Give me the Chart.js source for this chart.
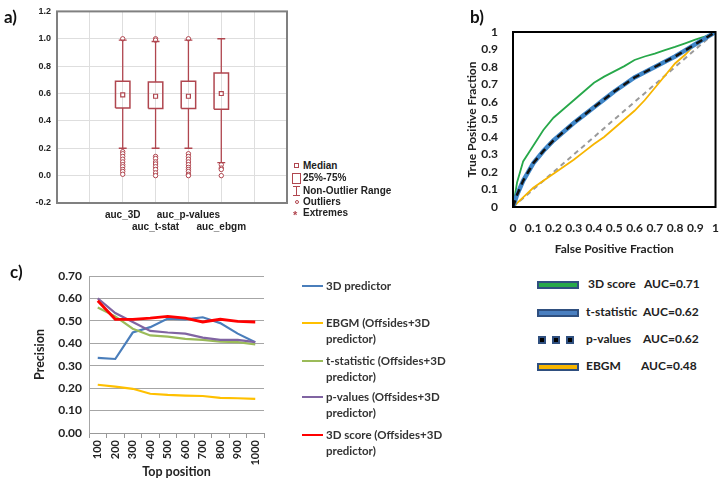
<!DOCTYPE html>
<html>
<head>
<meta charset="utf-8">
<script src="https://cdn.jsdelivr.net/npm/chart.js@4.4.0/dist/chart.umd.min.js"></script>
<style>
body { margin: 0; background: #fff; width: 725px; height: 483px; position: relative; overflow: hidden; }
canvas { position: absolute; }
.txt { position: absolute; font-weight: bold; white-space: nowrap; color: #222; }
.panel { font-family: Lato, sans-serif; font-size: 17px; color: #111; }
.la { font-family: "Liberation Sans", Arial, sans-serif; font-size: 10px; line-height: 12px; }
.lc { font-family: Lato, sans-serif; font-size: 11.5px; line-height: 16px; color: #333; }
.lb { font-family: Lato, sans-serif; font-size: 12px; line-height: 14px; color: #222; }
.sw { position: absolute; box-sizing: border-box; }
</style>
</head>
<body>
<canvas id="chartA" width="300" height="240" style="left:0;top:0"></canvas>
<canvas id="chartB" width="285" height="260" style="left:440px;top:0"></canvas>
<canvas id="chartC" width="290" height="228" style="left:0;top:255px"></canvas>

<div class="txt panel" style="left:4px;top:6px">a)</div>
<div class="txt panel" style="left:470px;top:6px">b)</div>
<div class="txt panel" style="left:10px;top:261px">c)</div>

<div id="legendA"></div>
<div id="legendB"></div>
<div id="legendC"></div>

<script>
// a) box plot data
const boxLabels = ['auc_3D', 'auc_t-stat', 'auc_p-values', 'auc_ebgm'];
const boxPos = [2, 3, 4, 5];
const boxQ1 = [0.495, 0.49, 0.49, 0.485];
const boxQ3 = [0.69, 0.685, 0.69, 0.75];
const boxMedian = [0.59, 0.58, 0.58, 0.60];
const whiskerLow = [0.2, 0.2, 0.2, 0.095];
const whiskerHigh = [0.99, 0.98, 0.99, 1.0];
const boxOutliers = [
	[1.0, 0.175, 0.16, 0.14, 0.12, 0.1, 0.08, 0.065, 0.045, 0.03, 0.01],
	[1.0, 0.99, 0.14, 0.125, 0.1, 0.085, 0.065, 0.045, 0.02, 0.0],
	[1.0, 0.16, 0.14, 0.12, 0.1, 0.08, 0.06, 0.045, 0.03, 0.01, 0.0],
	[0.08, 0.055, 0.045, 0.0]
];
const boxYTicks = [-0.2, 0, 0.2, 0.4, 0.6, 0.8, 1.0, 1.2];

// b) ROC curves
const rocFpr =     [0, 0.02, 0.05, 0.1, 0.15, 0.2, 0.25, 0.3, 0.35, 0.4, 0.45, 0.5, 0.55, 0.6, 0.65, 0.7, 0.75, 0.8, 0.85, 0.9, 0.95, 1];
const roc3DScore = [0, 0.14, 0.26, 0.35, 0.44, 0.51, 0.56, 0.61, 0.66, 0.71, 0.745, 0.775, 0.805, 0.84, 0.86, 0.877, 0.897, 0.915, 0.935, 0.956, 0.975, 1];
const rocTStat =   [0, 0.07, 0.15, 0.25, 0.32, 0.38, 0.43, 0.48, 0.525, 0.57, 0.615, 0.66, 0.70, 0.74, 0.77, 0.80, 0.83, 0.86, 0.895, 0.93, 0.965, 1];
const rocPValues = [0, 0.07, 0.15, 0.25, 0.32, 0.38, 0.43, 0.48, 0.525, 0.57, 0.615, 0.66, 0.70, 0.74, 0.77, 0.80, 0.83, 0.86, 0.895, 0.93, 0.965, 1];
const rocEbgm =    [0, 0.022, 0.055, 0.11, 0.15, 0.19, 0.23, 0.27, 0.315, 0.36, 0.40, 0.45, 0.50, 0.55, 0.61, 0.68, 0.75, 0.82, 0.87, 0.93, 0.965, 1];
const rocDiag = [0, 1];
const rocLegend = [
	['3D score', 'AUC=0.71'],
	['t-statistic', 'AUC=0.62'],
	['p-values', 'AUC=0.62'],
	['EBGM', 'AUC=0.48']
];

// c) precision at top positions
const topPositions = ['100', '200', '300', '400', '500', '600', '700', '800', '900', '1000'];
const prec3DPredictor = [0.335, 0.33, 0.448, 0.472, 0.51, 0.507, 0.516, 0.49, 0.443, 0.405];
const precEbgm =        [0.215, 0.207, 0.197, 0.175, 0.17, 0.167, 0.165, 0.157, 0.155, 0.152];
const precTStat =       [0.56, 0.52, 0.465, 0.435, 0.43, 0.42, 0.415, 0.407, 0.405, 0.395];
const precPValues =     [0.60, 0.535, 0.495, 0.455, 0.448, 0.443, 0.425, 0.415, 0.415, 0.405];
const prec3DScore =     [0.59, 0.507, 0.507, 0.512, 0.52, 0.512, 0.495, 0.507, 0.498, 0.495];
const precLabels = [
	['3D predictor'],
	['EBGM (Offsides+3D', 'predictor)'],
	['t-statistic (Offsides+3D', 'predictor)'],
	['p-values (Offsides+3D', 'predictor)'],
	['3D score (Offsides+3D', 'predictor)']
];

Chart.defaults.animation = false;
Chart.defaults.plugins.legend.display = false;
Chart.defaults.plugins.tooltip.enabled = false;

// frame around plot area
const framePlugin = {
	id: 'frame',
	afterDatasetsDraw(chart, args, opts) {
		const a = chart.chartArea;
		const c = chart.ctx;
		c.save();
		c.strokeStyle = opts.color;
		c.lineWidth = opts.width;
		c.strokeRect(a.left, a.top, a.right - a.left, a.bottom - a.top);
		c.restore();
	}
};

function pts(xs, ys) {
	return xs.map((x, i) => ({x: x, y: ys[i]}));
}

// ---------- a)
const boxRed = '#b0464f';
const bw = 0.22, cw = 0.12;
const aSets = [];
function seg(points, width) {
	aSets.push({
		data: points.map(p => ({x: p[0], y: p[1]})),
		showLine: true, borderColor: boxRed, borderWidth: width || 1.3,
		pointRadius: 0
	});
}
boxPos.forEach((x, i) => {
	seg([[x - bw, boxQ1[i]], [x + bw, boxQ1[i]], [x + bw, boxQ3[i]], [x - bw, boxQ3[i]], [x - bw, boxQ1[i]]], 1.5);
	seg([[x, whiskerLow[i]], [x, boxQ1[i]]]);
	seg([[x, boxQ3[i]], [x, whiskerHigh[i]]]);
	seg([[x - cw, whiskerLow[i]], [x + cw, whiskerLow[i]]]);
	seg([[x - cw, whiskerHigh[i]], [x + cw, whiskerHigh[i]]]);
});
aSets.push({
	data: boxPos.map((x, i) => ({x: x, y: boxMedian[i]})),
	showLine: false, pointStyle: 'rect', pointRadius: 2.8,
	borderColor: boxRed, borderWidth: 1.2, backgroundColor: '#fff'
});
const outPts = [];
boxOutliers.forEach((arr, i) => arr.forEach(v => outPts.push({x: boxPos[i], y: v})));
aSets.push({
	data: outPts, showLine: false, pointStyle: 'circle', pointRadius: 2.2,
	borderColor: boxRed, borderWidth: 1, backgroundColor: '#fff'
});

new Chart(document.getElementById('chartA'), {
	type: 'scatter',
	data: {datasets: aSets},
	plugins: [framePlugin],
	options: {
		responsive: false,
		layout: {padding: {top: 8, right: 13, left: 0, bottom: 0}},
		plugins: {frame: {color: '#808080', width: 2}},
		scales: {
			x: {
				type: 'linear', min: 0, max: 7,
				afterFit(s) { s.height = 37; },
				afterBuildTicks(s) { s.ticks = [0, 1, 2, 3, 4, 5, 6, 7].map(v => ({value: v})); },
				grid: {color: '#dedede', drawTicks: false},
				border: {display: false},
				ticks: {
					autoSkip: false, maxRotation: 0, padding: 6,
					color: '#222', font: {family: 'Liberation Sans', size: 10, weight: 'bold'},
					callback(v) {
						const i = boxPos.indexOf(v);
						if (i < 0) return '';
						return i % 2 === 0 ? [boxLabels[i], ''] : ['', boxLabels[i]];
					}
				}
			},
			y: {
				min: -0.2, max: 1.2,
				afterFit(s) { s.width = 57; },
				afterBuildTicks(s) { s.ticks = boxYTicks.map(v => ({value: v})); },
				grid: {color: '#dedede', drawTicks: false},
				border: {display: false},
				ticks: {
					padding: 6, color: '#222',
					font: {family: 'Liberation Sans', size: 9, weight: 'bold'},
					callback: v => v.toFixed(1)
				}
			}
		}
	}
});

// legend a)
(function() {
	const box = document.getElementById('legendA');
	const items = ['Median', '25%-75%', 'Non-Outlier Range', 'Outliers', 'Extremes'];
	const tops = [160, 172, 185, 196, 207];
	let html = '';
	items.forEach((t, i) => {
		html += '<div class="txt la" style="left:303px;top:' + tops[i] + 'px">' + t + '</div>';
	});
	html += '<div class="sw" style="left:294px;top:163px;width:5px;height:5px;border:1px solid ' + boxRed + '"></div>';
	html += '<div class="sw" style="left:292px;top:173px;width:9px;height:11px;border:1.3px solid ' + boxRed + '"></div>';
	html += '<div class="sw" style="left:296px;top:186px;width:1.3px;height:10px;background:' + boxRed + '"></div>';
	html += '<div class="sw" style="left:293px;top:186px;width:7px;height:1.3px;background:' + boxRed + '"></div>';
	html += '<div class="sw" style="left:293px;top:195px;width:7px;height:1.3px;background:' + boxRed + '"></div>';
	html += '<div class="sw" style="left:294.5px;top:199.5px;width:4px;height:4px;border-radius:50%;border:1px solid ' + boxRed + '"></div>';
	html += '<div class="txt la" style="left:293px;top:209px;color:' + boxRed + ';font-size:11px">*</div>';
	box.innerHTML = html;
})();

// ---------- b)
const rocGreen = '#27a84a';
const rocBlue = '#3f86c8';
const rocYellow = '#f7b500';
new Chart(document.getElementById('chartB'), {
	type: 'scatter',
	data: {
		datasets: [
			{data: pts(rocFpr, rocPValues), showLine: true, borderColor: '#111', borderWidth: 2.5, borderDash: [7, 5], pointRadius: 0},
			{data: pts(rocFpr, rocTStat), showLine: true, borderColor: rocBlue, borderWidth: 4.5, pointRadius: 0},
			{data: pts(rocFpr, roc3DScore), showLine: true, borderColor: rocGreen, borderWidth: 1.8, pointRadius: 0},
			{data: pts(rocFpr, rocEbgm), showLine: true, borderColor: rocYellow, borderWidth: 1.8, pointRadius: 0},
			{data: pts(rocDiag, rocDiag), showLine: true, borderColor: '#9a9a9a', borderWidth: 2, borderDash: [5, 4], pointRadius: 0}
		]
	},
	plugins: [framePlugin],
	options: {
		responsive: false,
		layout: {padding: {top: 32, right: 6, left: 0, bottom: 0}},
		plugins: {frame: {color: '#000', width: 2}},
		scales: {
			x: {
				min: 0, max: 1,
				afterFit(s) { s.height = 53; },
				grid: {display: false},
				border: {display: false},
				ticks: {stepSize: 0.1, maxRotation: 0, padding: 6, color: '#222',
					font: {family: 'Lato', size: 12, weight: 'bold'},
					callback: v => +v.toFixed(1) + ''},
				title: {display: true, text: 'False Positive Fraction', color: '#222', padding: {top: 2},
					font: {family: 'Lato', size: 12, weight: 'bold'}}
			},
			y: {
				min: 0, max: 1,
				afterFit(s) { s.width = 73; },
				grid: {display: false},
				border: {display: false},
				ticks: {stepSize: 0.1, padding: 7, color: '#222',
					font: {family: 'Lato', size: 12, weight: 'bold'},
					callback: v => +v.toFixed(1) + ''},
				title: {display: true, text: 'True Positive Fraction', color: '#222', padding: {top: 25, bottom: 0},
					font: {family: 'Lato', size: 12, weight: 'bold'}}
			}
		}
	}
});

// legend b)
(function() {
	const box = document.getElementById('legendB');
	const fills = [rocGreen, '#4a7fc0', null, rocYellow];
	const rows = [285, 313, 340, 367];
	const aucX = [644, 643, 643, 641];
	let html = '';
	rows.forEach((y, i) => {
		if (fills[i]) {
			html += '<div class="sw" style="left:537px;top:' + (y - 4) + 'px;width:42px;height:8px;background:' + fills[i] + ';border:2px solid #2f4f7f"></div>';
		} else {
			[0, 1, 2].forEach(k => {
				html += '<div class="sw" style="left:' + (538 + k * 14) + 'px;top:' + (y - 4) + 'px;width:8px;height:8px;background:#000;border:2px solid #2f4f7f"></div>';
			});
		}
		html += '<div class="txt lb" style="left:' + (i === 0 ? 588 : 586) + 'px;top:' + (y - 8) + 'px">' + rocLegend[i][0] + '</div>';
		html += '<div class="txt lb" style="left:' + aucX[i] + 'px;top:' + (y - 8) + 'px">' + rocLegend[i][1] + '</div>';
	});
	box.innerHTML = html;
})();

// ---------- c)
const cColors = ['#4a7ebb', '#ffc000', '#9bbb59', '#8064a2', '#ff0000'];
const cSeries = [prec3DPredictor, precEbgm, precTStat, precPValues, prec3DScore];
const cWidths = [2.2, 2.2, 2.2, 2.2, 2.8];
new Chart(document.getElementById('chartC'), {
	type: 'line',
	data: {
		labels: topPositions,
		datasets: cSeries.map((s, i) => ({
			data: s, borderColor: cColors[i], borderWidth: cWidths[i],
			pointRadius: 0, tension: 0, order: 5 - i
		}))
	},
	options: {
		responsive: false,
		layout: {padding: {top: 21, right: 26, left: 0, bottom: 0}},
		scales: {
			x: {
				offset: true,
				afterFit(s) { s.height = 50; },
				grid: {display: true, drawOnChartArea: false, drawTicks: true, tickLength: 5, color: '#999', offset: true},
				border: {display: true, color: '#999', width: 1},
				ticks: {autoSkip: false, minRotation: 90, maxRotation: 90, padding: 2, color: '#222',
					font: {family: 'Lato', size: 11, weight: 'bold'}},
				title: {display: true, text: 'Top position', color: '#222', padding: {top: 0},
					font: {family: 'Lato', size: 12.5, weight: 'bold'}}
			},
			y: {
				min: 0, max: 0.7,
				afterFit(s) { s.width = 89; },
				grid: {color: '#a6a6a6', drawTicks: false},
				border: {display: true, color: '#a6a6a6', width: 1},
				ticks: {stepSize: 0.1, padding: 7, color: '#222',
					font: {family: 'Lato', size: 12, weight: 'bold'},
					callback: v => v.toFixed(2)},
				title: {display: true, text: 'Precision', color: '#222', padding: {top: 32, bottom: 0},
					font: {family: 'Lato', size: 12.5, weight: 'bold'}}
			}
		}
	}
});

// legend c)
(function() {
	const box = document.getElementById('legendC');
	const rows = [286, 323, 361, 397, 435];
	let html = '';
	rows.forEach((y, i) => {
		html += '<div class="sw" style="left:302px;top:' + (y - 1) + 'px;width:21px;height:2px;background:' + cColors[i] + '"></div>';
		html += '<div class="txt lc" style="left:326px;top:' + (y - 8) + 'px">' + precLabels[i].join('<br>') + '</div>';
	});
	box.innerHTML = html;
})();
</script>
</body>
</html>
